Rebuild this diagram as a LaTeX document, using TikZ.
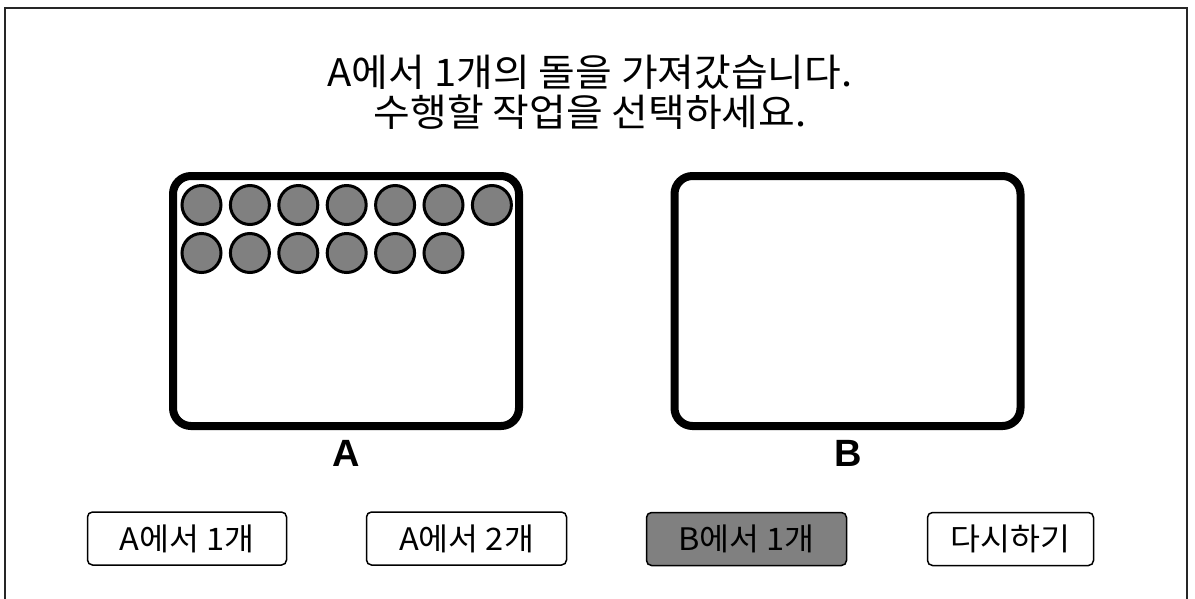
\documentclass[tikz,border=0pt]{standalone}
\usepackage{fontspec}
\setmainfont[FakeStretch=1.05]{Noto Sans CJK KR}
\newfontfamily\labelfont{Liberation Sans}
\begin{document}
\begin{tikzpicture}[x=1pt,y=-1pt,
  frame/.style={draw=black!85,line width=1.6pt},
  bin/.style={draw=black,line width=8pt,rounded corners=18pt,minimum width=346pt,minimum height=250pt,inner sep=0pt},
  stone/.style={circle,draw=black,fill=gray,line width=3pt,minimum size=39pt,inner sep=0pt},
  title/.style={font=\fontsize{38}{40}\selectfont,inner sep=0pt},
  binlabel/.style={font=\labelfont\bfseries\fontsize{38}{40}\selectfont,inner sep=0pt},
  btn/.style={draw=black,line width=1.5pt,rounded corners=5pt,minimum height=53pt,inner sep=0pt,font=\fontsize{31}{32}\selectfont}
]
\useasboundingbox (0,0) rectangle (1195,598);
\draw[frame] (5,600) -- (5,8) -- (1187,8) -- (1187,600);
\node[title] (t1) at (590,72) {A에서 1개의 돌을 가져갔습니다.};
\node[title] (t2) at (590,112) {수행할 작업을 선택하세요.};
\node[bin] (binA) at (346,301) {};
\node[bin] (binB) at (847.5,301) {};
\node[binlabel] (labA) at (346,453) {A};
\node[binlabel] (labB) at (848,453) {B};
\foreach \i in {0,...,6} {
  \node[stone] (r1s\i) at (201.5+48.4*\i,205) {};
}
\foreach \i in {0,...,5} {
  \node[stone] (r2s\i) at (201.5+48.4*\i,253) {};
}
\node[btn,minimum width=199pt] (b1) at (187,538.5) {A에서 1개};
\node[btn,minimum width=200pt] (b2) at (466.5,538.5) {A에서 2개};
\node[btn,minimum width=200pt,fill=gray] (b3) at (746.5,539) {B에서 1개};
\node[btn,minimum width=166pt] (b4) at (1010.5,539) {다시하기};
\end{tikzpicture}
\end{document}
